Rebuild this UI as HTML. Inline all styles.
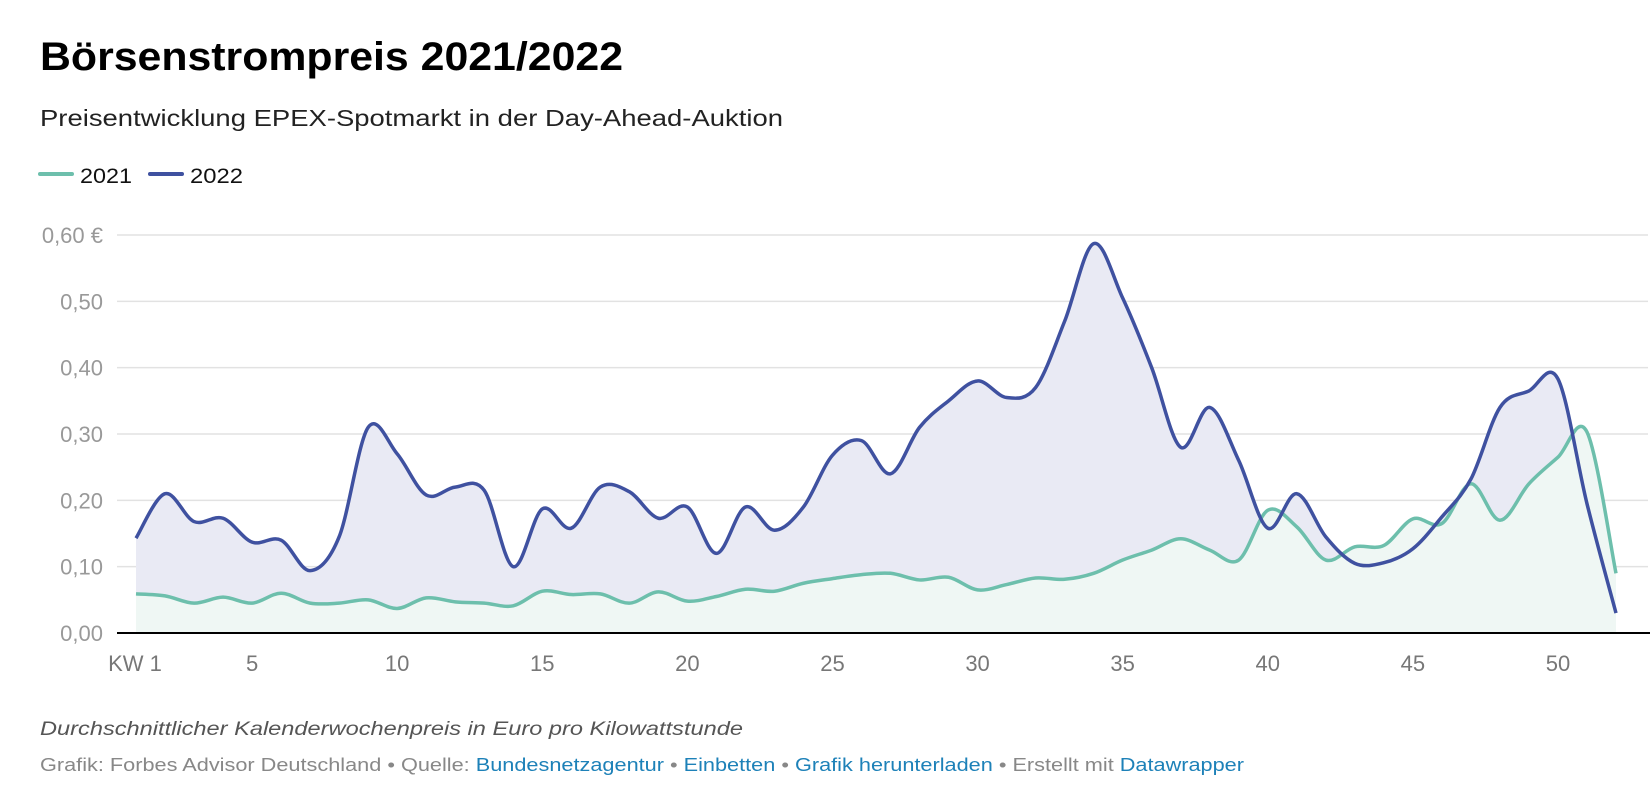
<!DOCTYPE html>
<html><head><meta charset="utf-8"><style>
html,body{margin:0;padding:0;background:#fff;}
svg{display:block;font-family:"Liberation Sans",Arial,sans-serif;}
</style></head><body>
<svg id="chart" width="1650" height="806" viewBox="0 0 1650 806" xmlns="http://www.w3.org/2000/svg">
<text x="40" y="70" font-size="40" font-weight="bold" fill="#000" textLength="583" lengthAdjust="spacingAndGlyphs">Börsenstrompreis 2021/2022</text>
<text x="40" y="126" font-size="23" fill="#222" textLength="743" lengthAdjust="spacingAndGlyphs">Preisentwicklung EPEX-Spotmarkt in der Day-Ahead-Auktion</text>
<g>
<g><line x1="40" y1="174" x2="72" y2="174" stroke="#6dbfac" stroke-width="4" stroke-linecap="round"/><text x="80" y="183" font-size="21" fill="#111" textLength="52" lengthAdjust="spacingAndGlyphs">2021</text></g>
<g><line x1="150" y1="174" x2="182" y2="174" stroke="#3f51a0" stroke-width="4" stroke-linecap="round"/><text x="190" y="183" font-size="21" fill="#111" textLength="53" lengthAdjust="spacingAndGlyphs">2022</text></g>
</g>
<g id="grid"></g>
<g id="areas"></g>
<g id="lines"></g>
<line x1="117" y1="633" x2="1650" y2="633" stroke="#000" stroke-width="2"/>
<g id="yticks"></g>
<g id="xticks"></g>
<text x="40" y="735" font-size="19" font-style="italic" fill="#555" textLength="703" lengthAdjust="spacingAndGlyphs">Durchschnittlicher Kalenderwochenpreis in Euro pro Kilowattstunde</text>
<text x="40" y="771" font-size="18" fill="#888" textLength="1204" lengthAdjust="spacingAndGlyphs">Grafik: Forbes Advisor Deutschland • Quelle: <tspan fill="#1d81b8">Bundesnetzagentur</tspan> • <tspan fill="#1d81b8">Einbetten</tspan> • <tspan fill="#1d81b8">Grafik herunterladen</tspan> • Erstellt mit <tspan fill="#1d81b8">Datawrapper</tspan></text>
</svg>
<script>
const weeks = Array.from({length:52},(_,i)=>i+1);
const values2021 = [0.059,0.056,0.045,0.054,0.045,0.060,0.045,0.045,0.050,0.037,0.053,0.047,0.045,0.041,0.063,0.058,0.059,0.045,0.062,0.048,0.055,0.066,0.063,0.075,0.082,0.088,0.090,0.080,0.084,0.065,0.073,0.083,0.081,0.090,0.110,0.125,0.142,0.125,0.110,0.185,0.160,0.110,0.130,0.132,0.172,0.165,0.225,0.170,0.225,0.265,0.303,0.090];
const values2022 = [0.143,0.210,0.168,0.173,0.137,0.140,0.094,0.145,0.310,0.270,0.208,0.220,0.215,0.100,0.187,0.158,0.220,0.213,0.173,0.190,0.120,0.190,0.155,0.190,0.268,0.290,0.240,0.310,0.350,0.380,0.355,0.370,0.470,0.587,0.505,0.400,0.280,0.340,0.260,0.158,0.210,0.145,0.105,0.106,0.127,0.175,0.232,0.340,0.365,0.383,0.195,0.030];
const yTicks = [0,0.1,0.2,0.3,0.4,0.5,0.6];
const yTickLabels = ["0,00","0,10","0,20","0,30","0,40","0,50","0,60 €"];
const xTicks = [1,5,10,15,20,25,30,35,40,45,50];
const xTickLabels = ["KW 1","5","10","15","20","25","30","35","40","45","50"];

const NS="http://www.w3.org/2000/svg";
const X = w => 136 + (w-1)*(1616-136)/51;
const Y = v => 633 - v*663.3;
function mk(tag, attrs, parent){const e=document.createElementNS(NS,tag);for(const k in attrs)e.setAttribute(k,attrs[k]);parent.appendChild(e);return e;}
function smooth(pts){
  let d=`M${pts[0][0]},${pts[0][1]}`;
  for(let i=0;i<pts.length-1;i++){
    const p0=pts[Math.max(i-1,0)],p1=pts[i],p2=pts[i+1],p3=pts[Math.min(i+2,pts.length-1)];
    const t=0.5/3;
    d+=` C${p1[0]+(p2[0]-p0[0])*t},${p1[1]+(p2[1]-p0[1])*t} ${p2[0]-(p3[0]-p1[0])*t},${p2[1]-(p3[1]-p1[1])*t} ${p2[0]},${p2[1]}`;
  }
  return d;
}
const grid=document.getElementById('grid'), yt=document.getElementById('yticks'), xt=document.getElementById('xticks');
yTicks.forEach((v,i)=>{
  if(v>0){const g=mk('line',{x1:117,x2:1648,y1:Y(v),y2:Y(v),stroke:'#e2e2e2','stroke-width':1.5},grid);
  
  }
  const t=mk('text',{x:103,y:Y(v)+8,'text-anchor':'end','font-size':22,fill:'#999'},yt);
  t.textContent=yTickLabels[i];
  
  
});
xTicks.forEach((w,i)=>{
  const t=mk('text',{x:X(w)-(i===0?1:0),y:671,'text-anchor':'middle','font-size':22,fill:'#777'},xt);
  t.textContent=xTickLabels[i];
  
  
});
const areas=document.getElementById('areas'), lines=document.getElementById('lines');
function series(vals,color,fill,name){
  const pts=vals.map((v,i)=>[X(weeks[i]),Y(v)]);
  const d=smooth(pts);
  const a=mk('path',{d:d+` L${pts[pts.length-1][0]},${Y(0)} L${pts[0][0]},${Y(0)} Z`,fill:fill},areas);
  
  
  const l=mk('path',{d:d,fill:'none',stroke:color,'stroke-width':3.5,'stroke-linejoin':'round'},lines);
  
  
}
series(values2022,'#3f51a0','#e9eaf4','2022');
series(values2021,'#6dbfac','#eff7f4','2021');
lines.appendChild(lines.firstChild);
</script>
</body></html>
